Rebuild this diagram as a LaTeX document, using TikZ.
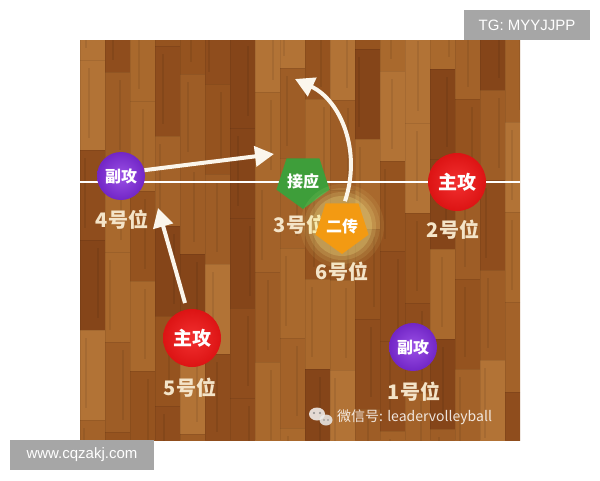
\documentclass[tikz,border=0pt]{standalone}
\usepackage{fontspec}
\setmainfont{Liberation Sans}
\newfontfamily\cjk{Noto Sans CJK SC}
\usetikzlibrary{shapes.geometric,arrows.meta,calc}
\definecolor{wood0}{HTML}{95531F}
\definecolor{wood1}{HTML}{9E5D26}
\definecolor{wood2}{HTML}{A9692D}
\definecolor{wood3}{HTML}{854519}
\definecolor{wood4}{HTML}{B27336}
\definecolor{wood5}{HTML}{8F4D1D}
\definecolor{wood6}{HTML}{A36229}
\definecolor{labelc}{HTML}{F4E4C8}
\definecolor{boxgray}{HTML}{A6A6A6}
\definecolor{arrowc}{HTML}{FBF6EC}
\definecolor{redA}{HTML}{F23030}
\definecolor{redB}{HTML}{D80E0E}
\definecolor{redC}{HTML}{A00000}
\definecolor{purA}{HTML}{9B50E6}
\definecolor{purB}{HTML}{6A1EC0}
\definecolor{purC}{HTML}{44088A}
\definecolor{greenA}{HTML}{3E9E3A}
\definecolor{orangeA}{HTML}{F39A12}
\pgfdeclareradialshading{redball}{\pgfpoint{0bp}{0bp}}{color(0bp)=(redA); color(30bp)=(redB); color(50bp)=(redC)}
\pgfdeclareradialshading{purball}{\pgfpoint{0bp}{0bp}}{color(0bp)=(purA); color(30bp)=(purB); color(50bp)=(purC)}
\begin{document}
\begin{tikzpicture}[x=1pt,y=-1pt,
  lbl/.style={font=\cjk\bfseries\fontsize{20}{20}\selectfont, text=labelc, inner sep=0},
  intext/.style={font=\cjk\bfseries\fontsize{16}{16}\selectfont, text=white},
  redplayer/.style={circle, shading=redball, minimum size=58, inner sep=0, intext, font=\cjk\bfseries\fontsize{19}{19}\selectfont},
  purplayer/.style={circle, shading=purball, minimum size=48, inner sep=0, intext},
  pent/.style={regular polygon, regular polygon sides=5, shape border rotate=180, minimum size=53, inner sep=0, intext},
  move/.style={draw=arrowc, line width=4, -{Triangle[length=19pt,width=20pt]}},
  graybox/.style={fill=boxgray, text=white, inner sep=0, font=\fontsize{15}{15}\selectfont}
]
\useasboundingbox (0,0) rectangle (600,480);
\fill[white] (0,0) rectangle (600,480);
% wooden floor
\begin{scope}
\clip (80,40) rectangle (520,440);
\fill[wood0] (80,40) rectangle (520,440);
\pgfmathsetseed{42}
\foreach \c in {0,...,17}{
  \pgfmathtruncatemacro{\off}{random(0,90)}
  \foreach \r in {0,...,5}{
    \pgfmathtruncatemacro{\sh}{random(0,6)}
    \pgfmathtruncatemacro{\ga}{random(4,20)}
    \fill[wood\sh] ({80+25*\c},{40-\off+90*\r}) rectangle ++(25,90);
    \draw[black, opacity=0.07, line width=2] ({80+25*\c+\ga},{40-\off+90*\r+8}) -- ++(0,70);
    \draw[black, opacity=0.08, line width=1] ({80+25*\c},{40-\off+90*\r}) -- ++(25,0);
  }
  \draw[black, opacity=0.07, line width=1] ({80+25*\c},40) -- ({80+25*\c},440);
}
\end{scope}
% court line
\draw[white, line width=2.6] (80,182) -- (520,182);
% labels
\node[lbl] (l4) at (122,220) {4号位};
\node[lbl] (l3) at (300,225) {3号位};
\node[lbl] (l2) at (453,230) {2号位};
\node[lbl] (l6) at (342,272) {6号位};
\node[lbl] (l5) at (190,388) {5号位};
\node[lbl] (l1) at (414,392) {1号位};
% players
\node[purplayer] (p4) at (121,176) {副攻};
\node[pent, fill=greenA] (p3) at (303,181) {接应};
\foreach \rr/\op in {42/0.08,38/0.1,34/0.14,30/0.2}{
  \fill[yellow!40!white, opacity=\op] (342,226) circle (\rr);
}
\node[pent, fill=orangeA] (p6) at (342,226) {二传};
\node[redplayer] (p2) at (457,182) {主攻};
\node[redplayer] (p5) at (192,338) {主攻};
\node[purplayer] (p1) at (413,347) {副攻};
% movement arrows
\coordinate (a1e) at (274,154);
\coordinate (a2s) at (185,303);
\coordinate (a2e) at (158,208);
\coordinate (a3e) at (295,79);
\draw[move] (p4.14) -- (a1e);
\draw[move] (a2s) -- (a2e);
\draw[move] (p6.north) ++(3,-2) .. controls (362,150) and (340,100) .. (a3e);
% watermark
\begin{scope}[opacity=0.85]
\fill[white!92!gray] (317,414) ellipse (8 and 6.5);
\fill[white!85!gray] (326,420) ellipse (6.5 and 5.5);
\fill[gray] (314,413) circle (1.1) (320,413) circle (1.1) (324,420) circle (0.9) (328,420) circle (0.9);
\end{scope}
\node[font=\cjk\fontsize{14}{14}\selectfont, text=white, opacity=0.85, anchor=west, inner sep=0] (wm) at (337,417) {微信号: leadervolleyball};
% corner boxes
\node[graybox, minimum width=126, minimum height=30] (tg) at (527,25) {TG: MYYJJPP};
\node[graybox, minimum width=144, minimum height=30] (www) at (82,455) {www.cqzakj.com};
\end{tikzpicture}
\end{document}
